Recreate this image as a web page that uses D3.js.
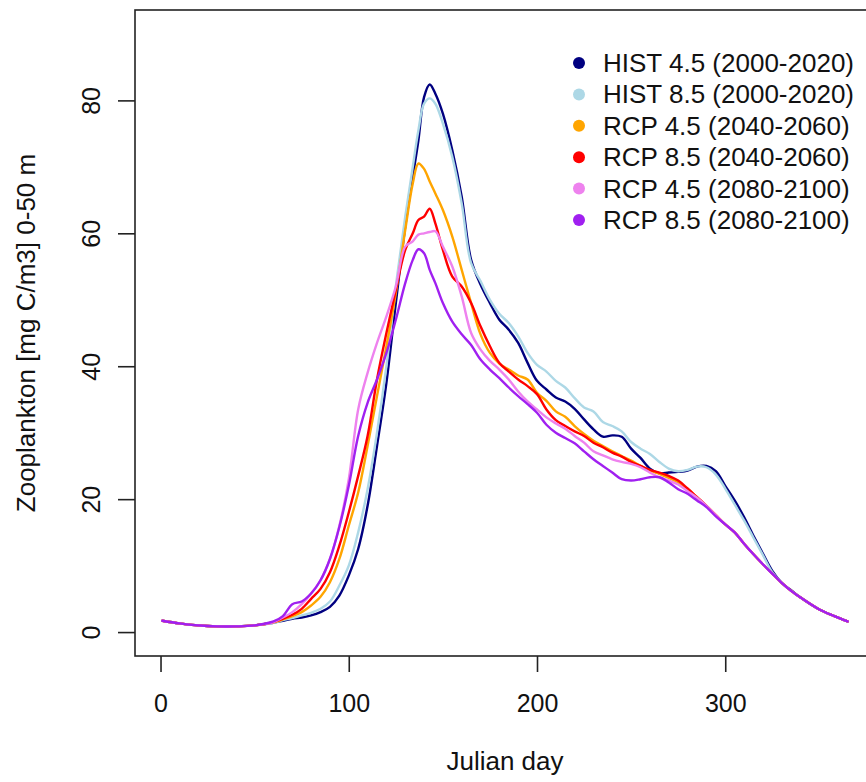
<!DOCTYPE html>
<html>
<head>
<meta charset="utf-8">
<script src="https://cdn.jsdelivr.net/npm/d3@7"></script>
<style>
  body { margin: 0; background: #fff; }
  svg { display: block; font-family: "Liberation Sans", Arial, Helvetica, sans-serif; }
</style>
</head>
<body>
<svg id="chart"></svg>
<script>
// Julian days
const days = [1,10,20,30,40,50,60,65,70,75,80,85,90,95,100,105,110,115,120,125,130,134,137,140,143,146,
  150,155,160,165,170,175,180,185,190,195,200,205,210,215,220,225,230,235,240,245,250,255,260,265,270,275,280,285,290,295,300,305,310,315,320,325,330,
  335,340,350,358,365];

const hist45 = [1.7,1.3,1.0,0.85,0.85,1.0,1.4, 1.7,2.0,2.2,2.5,3.0,3.8,5.5,8.5, 12.5,19,28,37.5,49.5,61, 68.5,74,80.5,82.4,81,
  78,72.5,65.5,56,52.3,49.5,47,45.5,43.5,40.5,37.8,36.5,35.3,34.7,33.6,32,30.5,29.4,29.6,29.4,27.6,26.2,24.6,23.9,24,24.1,24.3,24.9,25,24.2,22,19.8,17.3,14.5,11.8,9.2,7.4,
  6.3,5.2,3.4,2.4,1.6];
const hist85 = [1.7,1.3,1.0,0.85,0.85,1.0,1.4, 1.8,2.1,2.5,2.9,3.5,4.6,7.0,10.0, 15,21.5,30,40,52,62.5, 70,75.5,79.5,80.3,79.5,
  76.5,71.5,64.5,55.5,52.8,50,47.9,46.5,44.5,42,40.2,39.2,37.8,36.8,35.2,33.8,33.2,31.6,31,30.2,28.6,27.6,26.8,25.6,24.6,24.2,24.4,24.9,24.8,23.7,21.6,19.2,16.8,14.2,11.6,9.0,7.4,
  6.2,5.2,3.4,2.4,1.6];
const rcp45mid = [1.7,1.3,1.0,0.85,0.85,1.0,1.45, 1.9,2.4,3.0,4.0,5.3,7.5,11,16, 21,28,35.5,43,51,60.5, 67.5,70.5,69.7,67.8,66,
  63.5,59.5,54.5,49.5,44.8,42,40.4,39.5,38.6,38,36,34.8,33.2,32.4,31,29.8,28.8,28,27.2,26.5,25.8,25,24.3,23.8,23.2,22.5,21.5,20.3,19,17.6,16.2,15,13.3,11.7,10.2,8.8,7.4,
  6.2,5.2,3.4,2.4,1.6];
const rcp85mid = [1.7,1.3,1.0,0.85,0.85,1.0,1.5, 2.0,2.6,3.5,5.0,6.5,9.0,13,18, 23.5,29.5,38,45,51.5,57.5, 60,62,62.5,63.7,61.5,
  57.5,53.5,52,49.5,46,43,40.5,39.2,38,37,35.8,33.5,31.9,31,30.2,29.5,28.5,27.8,27,26.4,25.6,25,24.4,24,23.5,22.8,21.6,20.3,19,17.6,16.2,15,13.3,11.7,10.2,8.8,7.4,
  6.2,5.2,3.4,2.4,1.6];
const rcp45end = [1.7,1.3,1.0,0.85,0.85,1.0,1.5, 2.2,3.0,4.2,5.8,7.8,11,16,23, 33.5,39,43.5,47.5,52,58, 58.8,59.8,60,60.2,60.3,
  58,55,50.5,45,42.5,40.8,39.5,38,36.2,34.7,33.5,32.3,31.4,30.6,29.5,28.5,27.2,26.6,26,25.6,25.3,24.8,24,23.3,22.8,22.2,21.2,20.2,19,17.6,16.2,15,13.3,11.7,10.2,8.8,7.4,
  6.2,5.2,3.4,2.4,1.6];
const rcp85end = [1.7,1.3,1.0,0.85,0.85,1.0,1.6, 2.4,4.2,4.6,5.8,7.8,11,15.8,22, 29.5,34.5,38,42,47,52.5, 56,57.6,57,54.5,52.5,
  49.5,46.7,44.8,43.2,41,39.5,38.2,36.8,35.5,34.3,33,31.2,30,29.2,28.4,27.2,26,25,24,23,22.8,23,23.3,23.3,22.5,21.5,20.8,19.8,18.8,17.4,16.2,15,13.3,11.7,10.2,8.8,7.4,
  6.2,5.2,3.4,2.4,1.6];

const labels = ["HIST 4.5 (2000-2020)", "HIST 8.5 (2000-2020)", "RCP 4.5 (2040-2060)",
  "RCP 8.5 (2040-2060)", "RCP 4.5 (2080-2100)", "RCP 8.5 (2080-2100)"];
const colors = ["#000080", "#ADD8E6", "#FFA500", "#FF0000", "#EE82EE", "#A020F0"];
const xTicks = [0, 100, 200, 300];
const yTicks = [0, 20, 40, 60, 80];

const width = 866, height = 782;
const plot = { left: 135, right: 875, top: 10, bottom: 656 };

const svg = d3.select("#chart").attr("width", width).attr("height", height);

// R style axis limits (4% padding)
const x = d3.scaleLinear().domain([1 - 364 * 0.04, 365 + 364 * 0.04]).range([plot.left, plot.right]);
const y = d3.scaleLinear().domain([-3.6, 93.6]).range([plot.bottom, plot.top]);

const series = [hist45, hist85, rcp45mid, rcp85mid, rcp45end, rcp85end];

const line = d3.line()
  .x((d, i) => x(days[i]))
  .y(d => y(d))
  .curve(d3.curveCatmullRom.alpha(0.5));

svg.append("g")
  .selectAll("path")
  .data(series)
  .join("path")
  .attr("d", d => line(d))
  .attr("fill", "none")
  .attr("stroke", (d, i) => colors[i])
  .attr("stroke-width", 2.4)
  .attr("stroke-linejoin", "round")
  .attr("stroke-linecap", "round");

// box
svg.append("rect")
  .attr("x", plot.left).attr("y", plot.top)
  .attr("width", plot.right - plot.left).attr("height", plot.bottom - plot.top)
  .attr("fill", "none").attr("stroke", "#222").attr("stroke-width", 1.6);

// x axis
const xAxis = svg.append("g")
  .attr("transform", `translate(0,${plot.bottom})`)
  .call(d3.axisBottom(x).tickValues(xTicks).tickSize(16).tickPadding(22));
xAxis.select(".domain").remove();
xAxis.selectAll(".tick line").attr("stroke", "#222").attr("stroke-width", 1.6);
xAxis.selectAll(".tick text").attr("font-size", 25).attr("fill", "#111")
  .attr("font-family", "Liberation Sans, Arial, sans-serif");

// y axis
const yAxis = svg.append("g")
  .attr("transform", `translate(${plot.left},0)`)
  .call(d3.axisLeft(y).tickValues(yTicks).tickSize(17));
yAxis.select(".domain").remove();
yAxis.selectAll(".tick line").attr("stroke", "#222").attr("stroke-width", 1.6);
yAxis.selectAll(".tick text")
  .attr("font-size", 25).attr("fill", "#111")
  .attr("font-family", "Liberation Sans, Arial, sans-serif")
  .attr("x", null).attr("dy", null)
  .attr("text-anchor", "middle")
  .attr("transform", "translate(-35,0) rotate(-90)");

// axis titles
svg.append("text")
  .attr("x", (plot.left + plot.right) / 2)
  .attr("y", 770)
  .attr("text-anchor", "middle")
  .attr("font-size", 26)
  .attr("fill", "#111")
  .text("Julian day");

svg.append("text")
  .attr("transform", `translate(35,${(plot.top + plot.bottom) / 2}) rotate(-90)`)
  .attr("text-anchor", "middle")
  .attr("font-size", 26)
  .attr("fill", "#111")
  .text("Zooplankton [mg C/m3] 0-50 m");

// legend
const legend = svg.append("g");
const rows = legend.selectAll("g")
  .data(labels)
  .join("g")
  .attr("transform", (d, i) => `translate(579,${63 + i * 31.4})`);
rows.append("circle").attr("r", 6).attr("fill", (d, i) => colors[i]);
rows.append("text")
  .attr("x", 24).attr("y", 9)
  .attr("font-size", 26)
  .attr("fill", "#111")
  .text(d => d);
</script>
</body>
</html>
